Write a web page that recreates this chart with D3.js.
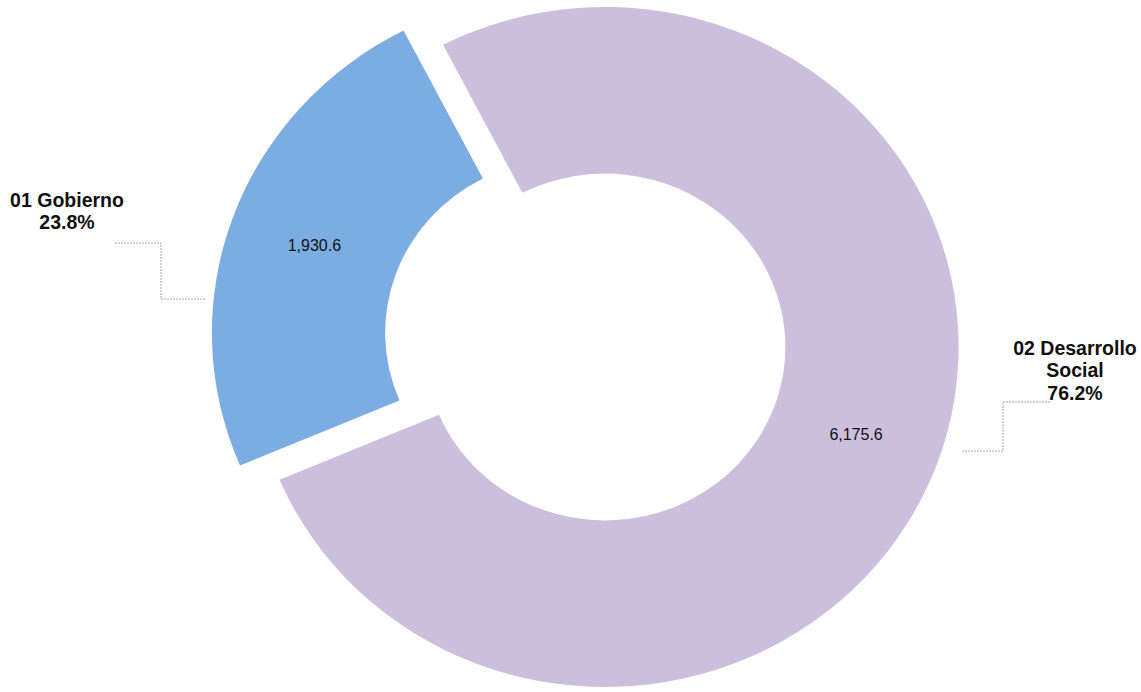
<!DOCTYPE html>
<html>
<head>
    <meta charset="utf-8">
    <script src="https://d3js.org/d3.v7.min.js"></script>
    <style>
        body { margin: 0; background: #fff; }
        svg text { font-family: "Liberation Sans", Arial, sans-serif; }
    </style>
</head>
<body>
    <script type="text/javascript">
        "use strict";
        // data
        var names = ["01 Gobierno", "02 Desarrollo Social"];
        var values = [1930.6, 6175.6];
        var colors = ["#7cade2", "#cbbfdd"];

        var width = 1141, height = 692;
        var cx = 605, cy = 347;
        var radius = 340, hole = 0.51;
        var sx = 1.04;          // the picture is a little wider than tall
        var explode = 42;       // first slice is pulled out
        var start = 247 * Math.PI / 180;

        var svg = d3.select("body").append("svg")
            .attr("width", width)
            .attr("height", height);

        var pie = d3.pie()
            .sort(null)
            .startAngle(start)
            .endAngle(start + 2 * Math.PI)
            .value(function(d) { return d; });

        var arc = d3.arc()
            .innerRadius(radius * hole)
            .outerRadius(radius);

        var arcs = pie(values);
        var total = d3.sum(values);

        function offset(d, i) {
            if (i !== 0) return [0, 0];
            var a = (d.startAngle + d.endAngle) / 2;
            return [Math.sin(a) * explode, -Math.cos(a) * explode];
        }

        var g = svg.append("g")
            .attr("transform", "translate(" + cx + "," + cy + ") scale(" + sx + ",1)");

        g.selectAll("path")
            .data(arcs)
            .enter().append("path")
            .attr("d", arc)
            .attr("transform", function(d, i) {
                var o = offset(d, i);
                return "translate(" + o[0] / sx + "," + o[1] + ")";
            })
            .style("fill", function(d, i) { return colors[i]; });

        // value labels in the middle of the ring
        var fmt = d3.format(",.1f");
        svg.selectAll("text.value")
            .data(arcs)
            .enter().append("text")
            .attr("class", "value")
            .attr("x", function(d, i) { return cx + arc.centroid(d)[0] * sx + offset(d, i)[0]; })
            .attr("y", function(d, i) { return cy + arc.centroid(d)[1] + offset(d, i)[1]; })
            .attr("text-anchor", "middle")
            .attr("dy", "0.35em")
            .style("font-size", "16px")
            .style("fill", "#111")
            .text(function(d) { return fmt(d.value); });

        // category labels with percent
        var pct = d3.format(".1%");
        var labels = [
            { lines: ["01 Gobierno"], x: 67, y: 200,
              leader: [[115, 243], [161, 243], [161, 299], [206, 299]] },
            { lines: ["02 Desarrollo", "Social"], x: 1075, y: 348,
              leader: [[1050, 402], [1003, 402], [1003, 451], [962, 451]] }
        ];

        labels.forEach(function(l, i) {
            var t = svg.append("text")
                .attr("x", l.x)
                .attr("y", l.y)
                .attr("text-anchor", "middle")
                .style("font-size", "19.5px")
                .style("font-weight", "bold")
                .style("fill", "#111");
            var rows = l.lines.concat([pct(values[i] / total)]);
            rows.forEach(function(r, j) {
                t.append("tspan")
                    .attr("x", l.x)
                    .attr("dy", j === 0 ? "0.35em" : "1.15em")
                    .text(r);
            });
            svg.append("path")
                .attr("d", d3.line()(l.leader))
                .style("fill", "none")
                .style("stroke", "#a5a5a5")
                .style("stroke-width", 1)
                .style("stroke-dasharray", "2,1");
        });
    </script>
</body>
</html>
